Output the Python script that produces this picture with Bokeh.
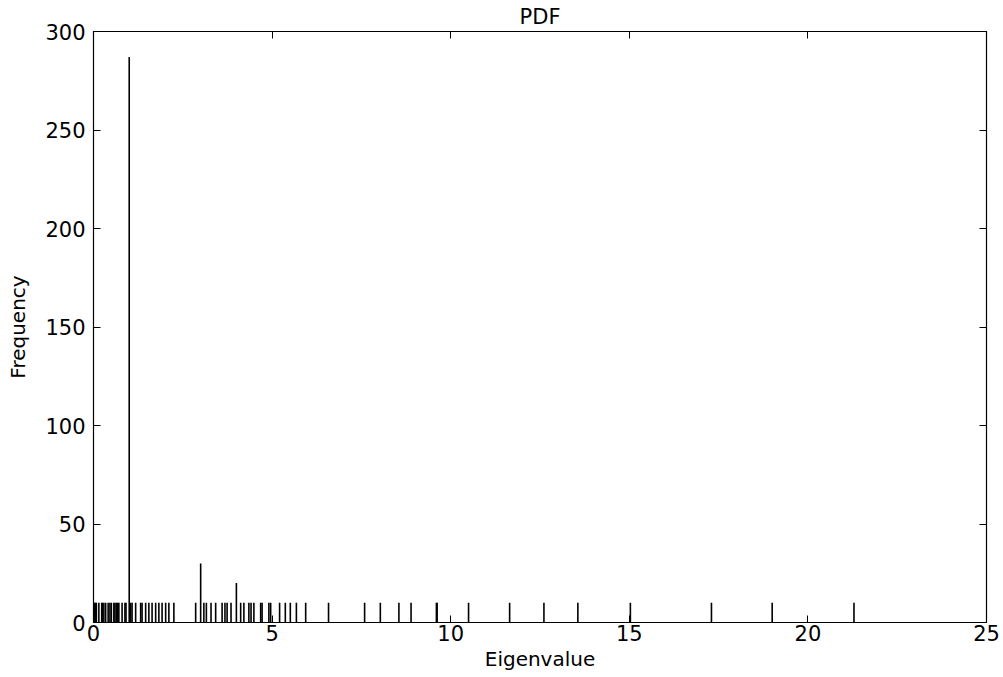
from bokeh.plotting import figure
from bokeh.models import Range1d, LinearAxis, FixedTicker, CustomJSTickFormatter
from bokeh.embed import file_html
from bokeh.resources import INLINE

eigenvalues = [0.0, 0.03, 0.06, 0.08, 0.15, 0.23, 0.25, 0.29, 0.34, 0.41, 0.46, 0.50,
               0.57, 0.60, 0.64, 0.68, 0.71, 0.80, 0.88, 0.91, 1.0, 1.04, 1.08, 1.18,
               1.32, 1.36, 1.46, 1.55, 1.64, 1.74, 1.83, 1.92, 2.02, 2.11, 2.25,
               2.86, 3.0, 3.09, 3.16, 3.29, 3.42, 3.60, 3.68, 3.74, 3.85, 4.0, 4.12,
               4.21, 4.35, 4.41, 4.49, 4.68, 4.72, 4.91, 4.96, 5.21, 5.37, 5.51,
               5.68, 5.94, 6.58, 7.59, 8.03, 8.55, 8.89, 9.60, 9.62, 10.5, 11.65,
               12.61, 13.56, 15.03, 17.30, 19.0, 21.29]
tall = {1.0: 287, 3.0: 30, 4.0: 20}
frequency = [tall.get(v, 10) for v in eigenvalues]

x_ticks = [0, 5, 10, 15, 20, 25]
y_ticks = [0, 50, 100, 150, 200, 250, 300]

FONT = "DejaVu Sans"

p = figure(width=1003, height=677, output_backend="svg", toolbar_location=None,
           x_range=Range1d(0, 25), y_range=Range1d(0, 300),
           min_border_left=93, min_border_right=17, min_border_top=31, min_border_bottom=55)

p.title.text = "PDF"
p.title.align = "center"
p.title.text_font = FONT
p.title.text_font_size = "21px"
p.title.text_font_style = "normal"
p.title.text_color = "black"
p.title.offset = 0
p.title.standoff = 5

p.segment(x0=eigenvalues, y0=[0] * len(eigenvalues), x1=eigenvalues, y1=frequency,
          line_color="black", line_width=1.6)

p.xgrid.visible = False
p.ygrid.visible = False
p.outline_line_color = "black"
p.outline_line_width = 1.2
p.background_fill_color = "white"
p.border_fill_color = "white"

for ax, ticks in ((p.xaxis[0], x_ticks), (p.yaxis[0], y_ticks)):
    ax.ticker = FixedTicker(ticks=ticks)
    ax.major_tick_in = 7
    ax.major_tick_out = 0
    ax.minor_tick_in = 0
    ax.minor_tick_out = 0
    ax.major_tick_line_color = "black"
    ax.axis_line_color = "black"
    ax.major_label_text_font = FONT
    ax.major_label_text_font_size = "21px"
    ax.major_label_text_color = "black"
    ax.axis_label_text_font = FONT
    ax.axis_label_text_font_size = "20px"
    ax.axis_label_text_font_style = "normal"
    ax.axis_label_text_color = "black"

p.xaxis.axis_label = "Eigenvalue"
p.yaxis.axis_label = "Frequency"
p.xaxis.major_label_standoff = 2
p.yaxis.major_label_standoff = 8
p.xaxis.axis_label_standoff = 3
p.yaxis.axis_label_standoff = 12

for loc, ticks in (("above", x_ticks), ("right", y_ticks)):
    ax = LinearAxis(ticker=FixedTicker(ticks=ticks), major_tick_in=7, major_tick_out=0,
                    minor_tick_in=0, minor_tick_out=0,
                    formatter=CustomJSTickFormatter(code="return ''"),
                    major_label_standoff=0, axis_line_color="black")
    p.add_layout(ax, loc)

open("out.html", "w").write(file_html(p, INLINE))
